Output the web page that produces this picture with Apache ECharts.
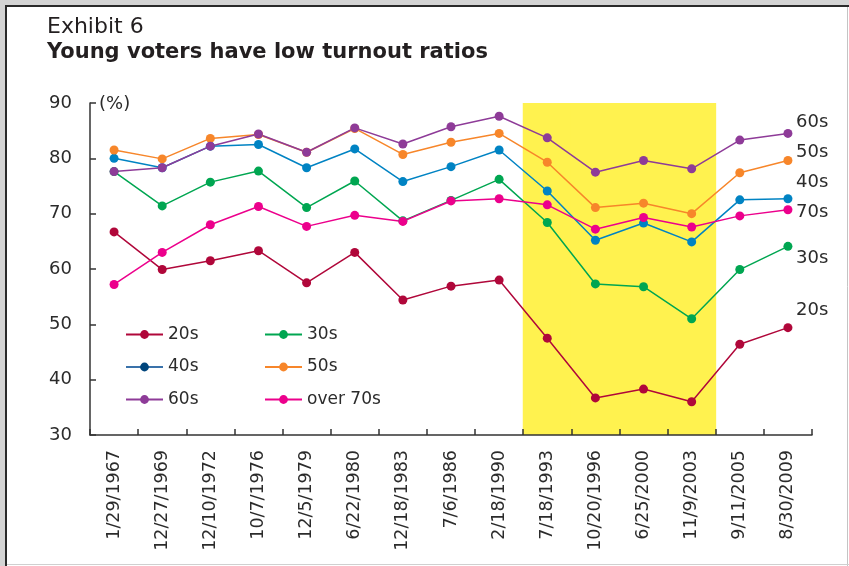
<!DOCTYPE html>
<html>
<head>
<meta charset="utf-8">
<title>Exhibit 6</title>
<script src="https://cdn.jsdelivr.net/npm/echarts@6.0.0/dist/echarts.min.js"></script>
<style>
  html, body { margin: 0; padding: 0; background: #fff; }
  #chart { width: 849px; height: 566px; }
</style>
</head>
<body>
<div id="chart"></div>
<script>
// election dates (x axis)
const dates = [
  '1/29/1967', '12/27/1969', '12/10/1972', '10/7/1976', '12/5/1979',
  '6/22/1980', '12/18/1983', '7/6/1986', '2/18/1990', '7/18/1993',
  '10/20/1996', '6/25/2000', '11/9/2003', '9/11/2005', '8/30/2009'
];
// highlighted elections (yellow band)
const shadedDates = ['7/18/1993', '10/20/1996', '6/25/2000', '11/9/2003'];

// turnout ratios by age group (%)
const twenties = [66.7, 59.9, 61.5, 63.3, 57.5, 63.0, 54.4, 56.9, 58.0, 47.5, 36.7, 38.3, 36.0, 46.4, 49.4];
const thirties = [77.6, 71.4, 75.7, 77.7, 71.1, 75.9, 68.7, 72.4, 76.2, 68.4, 57.3, 56.8, 51.0, 59.9, 64.1];
const forties = [80.0, 78.3, 82.2, 82.5, 78.3, 81.7, 75.8, 78.5, 81.5, 74.1, 65.2, 68.3, 64.9, 72.5, 72.7];
const fifties = [81.5, 79.9, 83.6, 84.3, 81.1, 85.4, 80.7, 82.9, 84.5, 79.3, 71.1, 71.9, 70.0, 77.4, 79.6];
const sixties = [77.6, 78.3, 82.2, 84.4, 81.1, 85.5, 82.6, 85.7, 87.6, 83.7, 77.5, 79.6, 78.1, 83.3, 84.5];
const overSeventies = [57.2, 63.0, 68.0, 71.3, 67.7, 69.7, 68.6, 72.3, 72.7, 71.6, 67.2, 69.3, 67.6, 69.6, 70.7];

const yTicks = { min: 30, max: 90, interval: 10 };

const FONT = '"DejaVu Sans", Verdana, sans-serif';
const TEXT = '#2b2b2b';

const colors = {
  '20s': '#b0073a',
  '30s': '#00a651',
  '40s': '#0083c3',
  '50s': '#f7862a',
  '60s': '#8e3b98',
  'over 70s': '#ec008c'
};

const groups = [
  ['20s', twenties],
  ['30s', thirties],
  ['40s', forties],
  ['50s', fifties],
  ['60s', sixties],
  ['over 70s', overSeventies]
];

const chart = echarts.init(document.getElementById('chart'), null, { renderer: 'canvas' });

const BAND = '#fff24f';
const bandSeries = {
  name: 'band',
  type: 'bar',
  silent: true,
  barWidth: 49, // a little wider than a category so neighbouring bars overlap
  barCategoryGap: '0%',
  itemStyle: { color: BAND },
  z: 1,
  data: dates.map(d => (shadedDates.includes(d) ? yTicks.max : null))
};

const lineSeries = groups.map(([name, values]) => ({
  name,
  type: 'line',
  data: values,
  symbol: 'circle',
  symbolSize: 9,
  z: 3,
  lineStyle: { width: 1.5, color: colors[name] },
  itemStyle: { color: colors[name] }
}));

const legendItem = name => {
  // the legend key for 40s is drawn in a darker blue than the line
  if (name === '40s') {
    return { name, itemStyle: { color: '#00457c' }, lineStyle: { color: '#3a72aa' } };
  }
  return { name };
};

const legendBase = {
  orient: 'vertical',
  top: 326,
  padding: 0,
  itemWidth: 37,
  itemHeight: 11,
  itemGap: 15.5,
  selectedMode: false,
  textStyle: { fontFamily: FONT, fontSize: 17, color: TEXT }
};

// direct labels on the right of the plot
const sideLabels = [
  ['60s', 124], ['50s', 154], ['40s', 184], ['70s', 214], ['30s', 260], ['20s', 312]
];

const frame = [
  { type: 'rect', left: 0, top: 0, shape: { width: 849, height: 566 }, style: { fill: '#d4d4d4' }, z: -10 },
  { type: 'rect', left: 7, top: 7, shape: { width: 842, height: 559 }, style: { fill: '#fff' }, z: -9 },
  { type: 'line', shape: { x1: 6, y1: 5, x2: 6, y2: 566 }, style: { stroke: '#2a2a2a', lineWidth: 2 }, z: -8 },
  { type: 'line', shape: { x1: 5, y1: 6, x2: 849, y2: 6 }, style: { stroke: '#2a2a2a', lineWidth: 2 }, z: -8 },
  { type: 'line', shape: { x1: 847.5, y1: 7, x2: 847.5, y2: 566 }, style: { stroke: '#c4c4c4', lineWidth: 1 }, z: -8 },
  { type: 'line', shape: { x1: 7, y1: 564.5, x2: 849, y2: 564.5 }, style: { stroke: '#d0d0d0', lineWidth: 1 }, z: -8 }
];

const option = {
  animation: false,
  backgroundColor: 'transparent',
  textStyle: { fontFamily: FONT },
  title: {
    left: 42,
    top: 11,
    text: 'Exhibit 6',
    subtext: 'Young voters have low turnout ratios',
    itemGap: 4,
    textStyle: { fontFamily: FONT, fontSize: 22, fontWeight: 'normal', color: '#231f20' },
    subtextStyle: { fontFamily: FONT, fontSize: 21, fontWeight: 'bold', color: '#231f20' }
  },
  legend: [
    { ...legendBase, left: 125, data: ['20s', '40s', '60s'].map(legendItem) },
    { ...legendBase, left: 264, data: ['30s', '50s', 'over 70s'].map(legendItem) }
  ],
  grid: { left: 90, right: 37, top: 103, bottom: 131, containLabel: false },
  xAxis: {
    type: 'category',
    data: dates,
    boundaryGap: true,
    z: 5,
    axisLine: { lineStyle: { color: '#333', width: 1.5 } },
    axisTick: { show: true, inside: true, length: 6, lineStyle: { color: '#333', width: 1.5 } },
    axisLabel: {
      rotate: 90,
      interval: 0,
      margin: 15,
      fontFamily: FONT,
      fontSize: 17.5,
      color: TEXT
    },
    splitLine: { show: false }
  },
  yAxis: {
    type: 'value',
    min: yTicks.min,
    max: yTicks.max,
    interval: yTicks.interval,
    z: 5,
    axisLine: { show: true, lineStyle: { color: '#333', width: 1.5 } },
    axisTick: { show: true, inside: true, length: 6, lineStyle: { color: '#333', width: 1.5 } },
    axisLabel: { margin: 18, fontFamily: FONT, fontSize: 18, color: TEXT },
    splitLine: { show: false }
  },
  graphic: [
    ...frame,
    {
      type: 'text',
      left: 99,
      top: 95,
      style: { text: '(%)', fontFamily: FONT, fontSize: 18, fill: TEXT }
    },
    ...sideLabels.map(([text, y]) => ({
      type: 'text',
      left: 796,
      top: y - 11,
      style: { text, fontFamily: FONT, fontSize: 18, fill: TEXT }
    }))
  ],
  series: [bandSeries, ...lineSeries]
};

chart.setOption(option);
</script>
</body>
</html>
